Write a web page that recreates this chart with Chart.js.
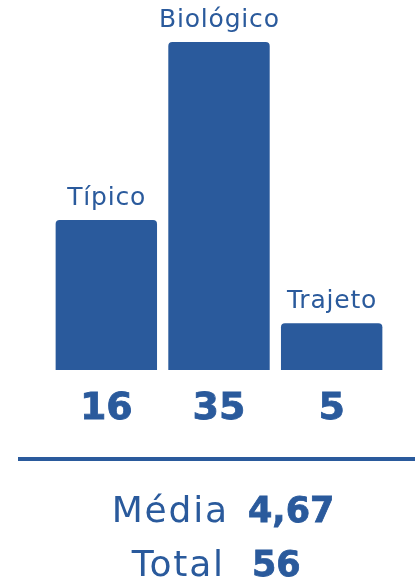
<!DOCTYPE html>
<html>
<head>
<meta charset="utf-8">
<script src="https://cdn.jsdelivr.net/npm/chart.js@4"></script>
<style>
  html, body { margin: 0; padding: 0; background: #ffffff; }
  #wrap { position: absolute; left: 0; top: 0; width: 415px; height: 587px; }
</style>
</head>
<body>
<div id="wrap"><canvas id="c" width="415" height="587"></canvas></div>
<script>
const categories = ['Típico', 'Biológico', 'Trajeto'];
const values = [16, 35, 5];
const valueLabels = ['16', '35', '5'];
const summaryLabels = ['Média', 'Total'];
const summaryValues = ['4,67', '56'];

const BLUE = '#2A5A9C';
const FONT = '"DejaVu Sans", sans-serif';

function boldText(ctx, txt, x, y) {
  ctx.fillText(txt, x, y);
  ctx.lineWidth = 0.8;
  ctx.strokeStyle = BLUE;
  ctx.strokeText(txt, x, y);
}

const labelsPlugin = {
  id: 'labelsPlugin',
  afterDatasetsDraw(chart) {
    const ctx = chart.ctx;
    const meta = chart.getDatasetMeta(0);
    ctx.save();
    ctx.fillStyle = BLUE;
    ctx.textAlign = 'center';
    ctx.textBaseline = 'alphabetic';
    meta.data.forEach((el, i) => {
      ctx.font = '25px ' + FONT;
      ctx.letterSpacing = '0.8px';
      ctx.fillText(categories[i], el.x + 0.4, el.y - 15);
      ctx.font = 'bold 38px ' + FONT;
      ctx.letterSpacing = '0px';
      boldText(ctx, valueLabels[i], el.x, el.base + 49);
    });
    // separator
    ctx.fillRect(18, 457, 397, 4);
    // summary
    const baselines = [522, 576];
    const labelRight = [227, 223];
    const valueLeft = [248, 252];
    summaryLabels.forEach((lab, i) => {
      ctx.font = '36px ' + FONT;
      ctx.letterSpacing = '1.8px';
      ctx.textAlign = 'right';
      ctx.fillText(lab, labelRight[i] + 1.8, baselines[i]);
      ctx.font = 'bold 35px ' + FONT;
      ctx.letterSpacing = '0px';
      ctx.textAlign = 'left';
      boldText(ctx, summaryValues[i], valueLeft[i], baselines[i]);
    });
    ctx.restore();
  }
};

new Chart(document.getElementById('c'), {
  type: 'bar',
  data: {
    labels: categories,
    datasets: [{
      data: values,
      backgroundColor: BLUE,
      borderWidth: 0,
      borderRadius: { topLeft: 4, topRight: 4, bottomLeft: 0, bottomRight: 0 },
      borderSkipped: false,
      categoryPercentage: 0.9,
      barPercentage: 1.0
    }]
  },
  options: {
    responsive: false,
    animation: false,
    layout: { padding: { left: 50, right: 27, top: 42, bottom: 217 } },
    plugins: { legend: { display: false }, tooltip: { enabled: false } },
    scales: {
      x: { display: false },
      y: { display: false, min: 0, max: Math.max(...values) }
    }
  },
  plugins: [labelsPlugin]
});
</script>
</body>
</html>
